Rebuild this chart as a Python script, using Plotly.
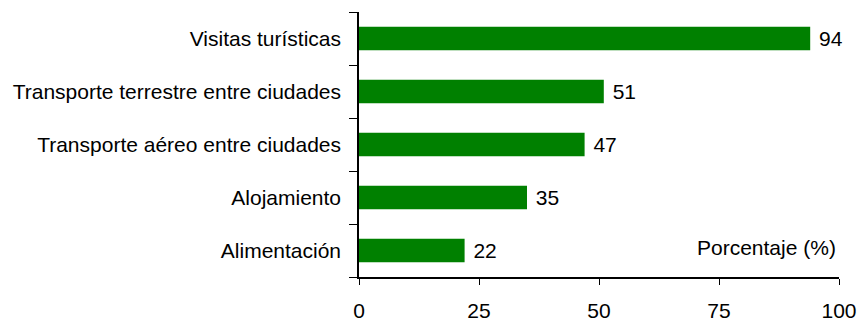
import plotly.graph_objects as go

categories = ["Alimentación", "Alojamiento", "Transporte aéreo entre ciudades",
              "Transporte terrestre entre ciudades", "Visitas turísticas"]
values = [22, 35, 47, 51, 94]
labels = ["22", "35", "47", "51", "94"]
x_ticks = [0, 25, 50, 75, 100]

FONT = "Liberation Sans"
FS = 21

fig = go.Figure(go.Bar(
    x=values, y=categories, orientation="h",
    marker=dict(color="#008000", line=dict(width=0)),
    width=0.44,
    text=labels, texttemplate=" %{text}", textposition="outside", cliponaxis=False,
    textfont=dict(family=FONT, size=FS, color="black"),
    hoverinfo="skip",
))

fig.update_layout(
    width=858, height=321,
    margin=dict(l=359, r=19, t=12, b=44, autoexpand=False),
    paper_bgcolor="white", plot_bgcolor="white",
    font=dict(family=FONT, size=FS, color="black"),
    showlegend=False,
    xaxis=dict(range=[0, 100], tickvals=x_ticks, ticks="outside", ticklen=6,
               tickcolor="black", showline=True, linecolor="black", linewidth=1.5,
               showgrid=False, zeroline=False, automargin=False,
               ticklabelstandoff=8,
               tickfont=dict(family=FONT, size=FS, color="black")),
    yaxis=dict(type="category", ticks="outside", ticklen=8, tickson="boundaries",
               tickcolor="black", showline=True, linecolor="black", linewidth=1.5,
               showgrid=False, zeroline=False, range=[-0.5, 4.5], automargin=False,
               ticklabelstandoff=12,
               tickfont=dict(family=FONT, size=FS, color="black")),
    annotations=[dict(text="Porcentaje (%)", xref="paper", yref="paper",
                      x=0.998, y=0.113, xanchor="right", yanchor="middle",
                      showarrow=False, font=dict(family=FONT, size=FS, color="black"))],
)

fig.write_html(
    "out.html",
    config={"displayModeBar": False},
    post_script="document.body.style.margin='0';document.body.style.overflow='hidden';",
)
